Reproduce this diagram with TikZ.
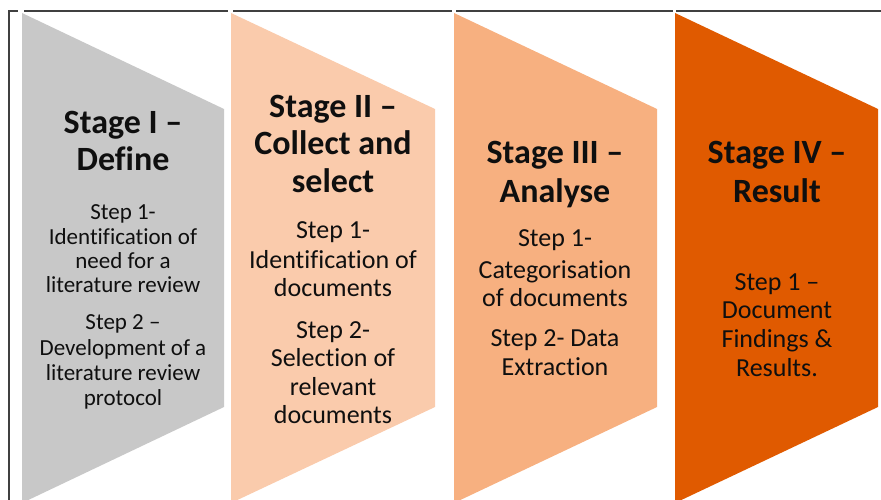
\documentclass[tikz,border=0pt]{standalone}
\usepackage{fontspec}
\setmainfont{Carlito}[Ligatures={NoCommon}]
\definecolor{greyfill}{RGB}{200,200,200}
\definecolor{peachA}{RGB}{250,203,172}
\definecolor{peachB}{RGB}{247,176,128}
\definecolor{orangeC}{RGB}{224,90,0}
\definecolor{frameline}{RGB}{64,64,64}
\definecolor{txt}{RGB}{15,15,15}
\begin{document}
\begin{tikzpicture}[x=1pt,y=-1pt,
  frame/.style={draw=frameline,line width=1.6pt},
  ttl/.style={anchor=base,inner sep=0pt,text=txt,font=\fontsize{34}{37}\selectfont\bfseries},
  bodyA/.style={anchor=base,inner sep=0pt,text=txt,font=\fontsize{23}{24.5}\selectfont},
  bodyB/.style={anchor=base,inner sep=0pt,text=txt,font=\fontsize{26}{28.5}\selectfont}]
\useasboundingbox (0,0) rectangle (881,500);
\clip (0,0) rectangle (881,500);
% frame lines
\draw[frame] (9,500) -- (9,11) -- (18,11);
\draw[frame] (24,11) -- (228,11);
\draw[frame] (233,11) -- (452,11);
\draw[frame] (456,11) -- (673,11);
\draw[frame] (676,11) -- (881,11);
% panels
\fill[greyfill] (22,13) -- (224,109) -- (224,407) -- (22,503) -- cycle;
\fill[peachA] (231,13) -- (435,109) -- (435,407) -- (231,503) -- cycle;
\fill[peachB] (454,13) -- (657,109) -- (657,407) -- (454,503) -- cycle;
\fill[orangeC] (675,13) -- (878,109) -- (878,407) -- (675,503) -- cycle;
% stage I
\node[ttl] (t1a) at (123,134) {Stage I –};
\node[ttl] (t1b) at (123,171) {Define};
\foreach \y/\s [count=\i] in {219.5/Step 1-, 244.5/Identification of, 268.5/need for a, 292.5/literature review, 329.5/Step 2 –, 355.5/Development of a, 380.5/literature review, 405.5/protocol}
  \node[bodyA] (b1-\i) at (123,\y) {\s};
% stage II
\node[ttl] (t2a) at (333,118) {Stage II –};
\node[ttl] (t2b) at (333,155) {Collect and};
\node[ttl] (t2c) at (333,192) {select};
\foreach \y/\s [count=\i] in {238.5/Step 1-, 268.5/Identification of, 296.5/documents, 338.5/Step 2-, 366.5/Selection of, 395.5/relevant, 423.5/documents}
  \node[bodyB] (b2-\i) at (333,\y) {\s};
% stage III
\node[ttl] (t3a) at (555,164) {Stage III –};
\node[ttl] (t3b) at (555,202) {Analyse};
\foreach \y/\s [count=\i] in {246.5/Step 1-, 278.5/Categorisation, 306.5/of documents, 346.5/Step 2- Data, 375.5/Extraction}
  \node[bodyB] (b3-\i) at (555,\y) {\s};
% stage IV
\node[ttl] (t4a) at (777,164) {Stage IV –};
\node[ttl] (t4b) at (777,202) {Result};
\foreach \y/\s [count=\i] in {290.5/Step 1 –, 318.5/Document, 347.5/Findings \&, 376.5/Results.}
  \node[bodyB] (b4-\i) at (777,\y) {\s};
\end{tikzpicture}
\end{document}
